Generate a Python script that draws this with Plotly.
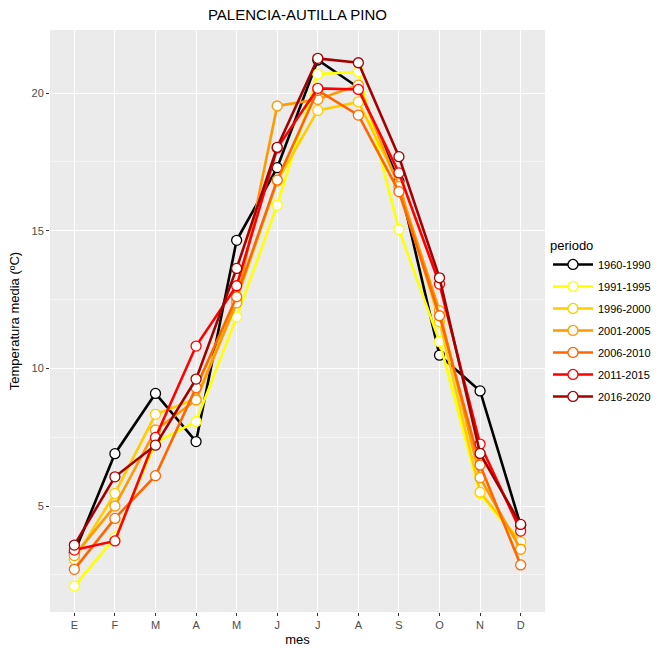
import plotly.graph_objects as go

meses = ["E", "F", "M", "A", "M", "J", "J", "A", "S", "O", "N", "D"]
periodos = ["1960-1990", "1991-1995", "1996-2000", "2001-2005", "2006-2010", "2011-2015", "2016-2020"]

t_1960_1990 = [3.3, 6.90, 9.09, 7.34, 14.65, 17.29, 21.2, 20.2, 16.8, 10.48, 9.18, 4.3]
t_1991_1995 = [2.09, 3.85, 7.3, 8.07, 11.87, 15.93, 20.69, 20.77, 15.05, 10.97, 5.45, 3.6]
t_1996_2000 = [3.06, 5.46, 8.33, 8.9, 12.5, 16.8, 19.37, 19.68, 16.7, 11.70, 5.5, 3.70]
t_2001_2005 = [3.2, 5.0, 7.76, 8.85, 12.38, 19.53, 19.77, 20.29, 16.6, 12.09, 6.03, 3.43]
t_2006_2010 = [2.70, 4.55, 6.10, 9.30, 12.60, 16.84, 20.1, 19.20, 16.42, 11.91, 6.49, 2.86]
t_2011_2015 = [3.40, 3.73, 7.49, 10.81, 13.0, 18.0, 20.17, 20.13, 17.10, 13.06, 7.25, 4.09]
t_2016_2020 = [3.58, 6.06, 7.21, 9.61, 13.63, 18.03, 21.26, 21.10, 17.69, 13.29, 6.91, 4.33]

series = [t_1960_1990, t_1991_1995, t_1996_2000, t_2001_2005, t_2006_2010, t_2011_2015, t_2016_2020]
colores = ["#000000", "#FFFF00", "#FFCC00", "#FF9900", "#FF6600", "#FF0000", "#A50000"]

x = list(range(len(meses)))

fig = go.Figure()
for nombre, vals, col in zip(periodos, series, colores):
    fig.add_trace(go.Scatter(
        x=x, y=vals, name=nombre, mode="lines+markers",
        legendgroup=nombre,
        line=dict(color=col, width=2.6),
        marker=dict(size=10, color="white", line=dict(color=col, width=1.3)),
    ))

grid = dict(showgrid=True, gridcolor="white", gridwidth=1.1, zeroline=False,
            ticks="outside", ticklen=3, tickcolor="#333333", automargin=False,
            tickfont=dict(family="Liberation Sans, Arial", size=11, color="#4D4D4D"))

fig.update_layout(
    width=661, height=648,
    paper_bgcolor="white", plot_bgcolor="#EBEBEB",
    margin=dict(l=50, r=116, t=30, b=36, autoexpand=False),
    title=dict(text="PALENCIA-AUTILLA PINO", x=0.45, xanchor="center", y=1 - 15 / 648, yref="container",
               yanchor="middle",
               font=dict(family="Liberation Sans, Arial", size=15, color="black")),
    font=dict(family="Liberation Sans, Arial", color="black"),
    xaxis=dict(range=[-0.6, 11.6], tickmode="array", tickvals=x, ticktext=meses,
               title=dict(text="mes", font=dict(size=13), standoff=4), **grid),
    yaxis=dict(range=[1.15, 22.29], tickmode="array", tickvals=[5, 10, 15, 20],
               minor=dict(tickvals=[2.5, 7.5, 12.5, 17.5, 22.5], showgrid=True, gridcolor="#F5F5F5", gridwidth=0.6),
               title=dict(text="Temperatura media (ºC)", font=dict(size=13), standoff=8), **grid),
    legend=dict(title=dict(text="periodo", font=dict(size=13)),
                xref="container", yref="container",
                x=0.829, xanchor="left", y=0.503, yanchor="middle",
                font=dict(size=11), bgcolor="rgba(0,0,0,0)", tracegroupgap=3, itemwidth=40),
    showlegend=True,
)
fig.update_xaxes(minor=dict(showgrid=False))

fig.write_html("out.html", config={"displayModeBar": False},
               post_script="document.body.style.margin='0px';")
